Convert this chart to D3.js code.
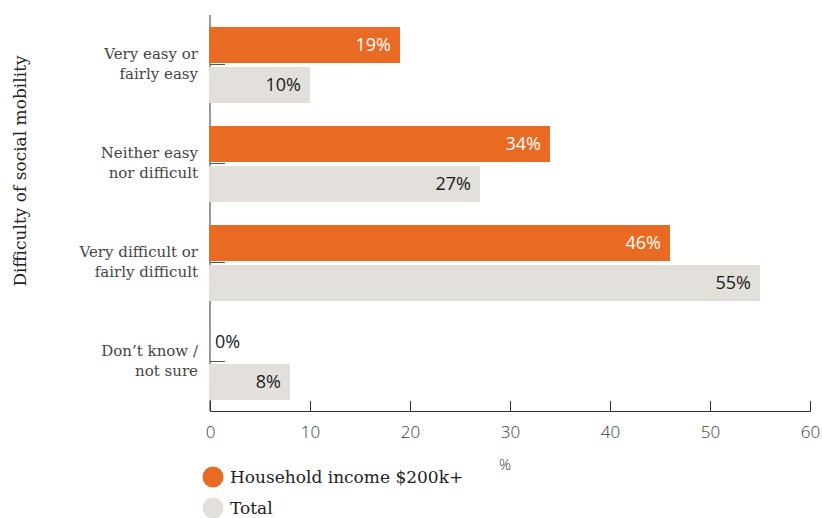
<!DOCTYPE html>
<html>
<head>
<meta charset="utf-8">
<script src="https://cdn.jsdelivr.net/npm/d3@7"></script>
<style>
  html, body { margin: 0; padding: 0; background: #fff; }
  svg { display: block; }
</style>
</head>
<body>
<svg id="chart" width="822" height="518"></svg>
<script>
// Survey responses: perceived difficulty of social mobility
const categories = [
  ["Very easy or", "fairly easy"],
  ["Neither easy", "nor difficult"],
  ["Very difficult or", "fairly difficult"],
  ["Don\u2019t know /", "not sure"]
];
const seriesNames = ["Household income $200k+", "Total"];
const highIncome = [19, 34, 46, 0];
const total = [10, 27, 55, 8];
const xTicks = [0, 10, 20, 30, 40, 50, 60];

const colors = { "Household income $200k+": "#E96B23", "Total": "#E3E0DB" };
const labelColors = { "Household income $200k+": "#ffffff", "Total": "#1a1a1a" };

const svg = d3.select("#chart");
const margin = { top: 15, left: 210, right: 12, bottom: 107 };
const W = 822, H = 518;

const catKeys = categories.map(c => c.join(" "));
const rows = catKeys.map((k, i) => ({
  key: k,
  lines: categories[i],
  values: [
    { series: seriesNames[0], value: highIncome[i] },
    { series: seriesNames[1], value: total[i] }
  ]
}));

const x = d3.scaleLinear().domain([0, 60]).range([margin.left, W - margin.right]);
const y0 = d3.scaleBand().domain(catKeys).range([margin.top, H - margin.bottom]).padding(0);
const y1 = d3.scaleBand().domain(seriesNames)
  .range([y0.bandwidth() * 0.121, y0.bandwidth() * 0.889]).paddingInner(0.1);

const axisColor = "#333";
const sans = "'Open Sans', 'Noto Sans', sans-serif";
const serif = "'DejaVu Serif', 'Liberation Serif', serif";

// y axis line and band ticks
svg.append("line")
  .attr("x1", x(0)).attr("x2", x(0))
  .attr("y1", margin.top).attr("y2", H - margin.bottom)
  .attr("stroke", axisColor).attr("stroke-width", 1);

svg.append("g").selectAll("line").data(catKeys).join("line")
  .attr("x1", x(0)).attr("x2", x(0) + 15)
  .attr("y1", d => y0(d) + y0.bandwidth() / 2)
  .attr("y2", d => y0(d) + y0.bandwidth() / 2)
  .attr("stroke", "#555").attr("stroke-width", 1);

// x axis
const xAxis = svg.append("g")
  .attr("transform", `translate(0,${H - margin.bottom})`)
  .call(d3.axisBottom(x).tickValues(xTicks).tickSize(-10).tickPadding(12));
xAxis.select(".domain").attr("stroke", axisColor);
xAxis.selectAll(".tick line").attr("stroke", axisColor);
xAxis.selectAll(".tick text")
  .attr("font-family", sans).attr("font-size", 17).attr("font-weight", 300)
  .attr("fill", "#3a3a3a").attr("dy", "0.9em");

svg.append("text")
  .attr("x", x(30) - 5).attr("y", 470)
  .attr("text-anchor", "middle")
  .attr("font-family", sans).attr("font-size", 15).attr("font-weight", 300)
  .attr("fill", "#333").text("%");

// bars
const groups = svg.append("g").selectAll("g").data(rows).join("g")
  .attr("transform", d => `translate(0,${y0(d.key)})`);

groups.selectAll("rect").data(d => d.values).join("rect")
  .attr("x", x(0) - 1)
  .attr("y", d => y1(d.series))
  .attr("width", d => d.value > 0 ? x(d.value) - x(0) + 1 : 0)
  .attr("height", y1.bandwidth())
  .attr("fill", d => colors[d.series]);

groups.selectAll("text.val").data(d => d.values).join("text")
  .attr("class", "val")
  .attr("x", d => d.value >= 5 ? x(d.value) - 9 : x(d.value) + 5)
  .attr("y", d => y1(d.series) + y1.bandwidth() / 2)
  .attr("dy", "0.36em")
  .attr("text-anchor", d => d.value >= 5 ? "end" : "start")
  .attr("font-family", sans).attr("font-size", 18)
  .attr("fill", d => d.value >= 5 ? labelColors[d.series] : "#1a1a1a")
  .text(d => d.value + "%");

// category labels
svg.append("g").selectAll("text").data(rows).join("text")
  .attr("text-anchor", "end")
  .attr("font-family", serif).attr("font-size", 15).attr("font-weight", 300)
  .attr("fill", "#444")
  .attr("y", d => y0(d.key) + y0.bandwidth() / 2)
  .each(function(d) {
    const t = d3.select(this);
    d.lines.forEach((ln, i) => {
      t.append("tspan").attr("x", 198)
        .attr("dy", i === 0 ? "-0.36em" : "1.35em").text(ln);
    });
  });

// y axis title
svg.append("text")
  .attr("transform", `translate(26,${(margin.top + H - margin.bottom) / 2 - 42}) rotate(-90)`)
  .attr("text-anchor", "middle")
  .attr("font-family", serif).attr("font-size", 17)
  .attr("fill", "#222").text("Difficulty of social mobility");

// legend
const legend = svg.append("g").selectAll("g").data(seriesNames).join("g")
  .attr("transform", (d, i) => `translate(213,${477 + i * 31})`);
legend.append("circle").attr("r", 10.5).attr("fill", d => colors[d]);
legend.append("text")
  .attr("x", 17).attr("dy", "0.36em")
  .attr("font-family", serif).attr("font-size", 17)
  .attr("fill", "#222").text(d => d);
</script>
</body>
</html>
